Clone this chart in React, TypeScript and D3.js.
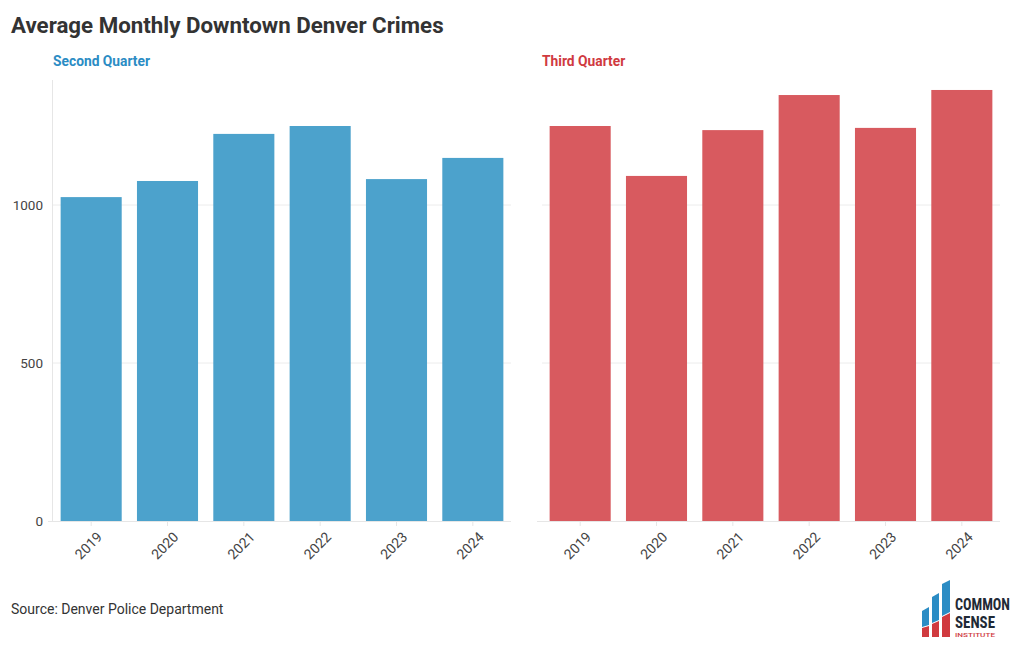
import React from "react";
import * as d3 from "d3";

const years = ["2019", "2020", "2021", "2022", "2023", "2024"];
const secondQuarter = [1025, 1076, 1225, 1250, 1082, 1149];
const thirdQuarter = [1250, 1092, 1237, 1348, 1244, 1364];
const yTicks = [0, 500, 1000];

const FONT = "Roboto, 'Noto Sans', sans-serif";

function Panel({ x0, x1, values, color, titleColor, title, showAxis }: any) {
  const y = d3.scaleLinear().domain([0, 1000]).range([521, 205]);
  const x = d3.scaleBand().domain(years).range([x0, x1]).paddingInner(0.2).paddingOuter(0.1);
  return (
    <g>
      <text x={x0} y={66} fontFamily={FONT} fontWeight={700} fontSize={13.8} fill={titleColor}>{title}</text>
      {yTicks.filter(t => t > 0).map(t => (
        <line key={t} x1={x0} x2={x1} y1={y(t)} y2={y(t)} stroke="#ececec" strokeWidth={1} />
      ))}
      {showAxis && <line x1={x0 - 0.5} x2={x0 - 0.5} y1={80} y2={521} stroke="#e6e6e6" />}
      {showAxis && yTicks.map(t => (
        <text key={t} x={x0 - 10} y={y(t)} dy="0.35em" textAnchor="end" fontFamily={FONT} fontSize={13.5} fill="#444">{t}</text>
      ))}
      {values.map((v: number, i: number) => (
        <rect key={i} x={x(years[i])} width={x.bandwidth()} y={y(v)} height={y(0) - y(v)} fill={color} />
      ))}
      <line x1={x0 - 5} x2={x1} y1={521.5} y2={521.5} stroke="#e6e6e6" />
      {years.map(yr => {
        const cx = (x(yr) as number) + x.bandwidth() / 2;
        return (
          <g key={yr}>
            <line x1={cx} x2={cx} y1={522} y2={526} stroke="#e6e6e6" />
            <text transform={`translate(${cx + 5},${531}) rotate(-45)`} textAnchor="end" dy="0.7em" fontFamily={FONT} fontSize={14} fill="#444">{yr}</text>
          </g>
        );
      })}
    </g>
  );
}

function Logo() {
  return (
    <g>
      <polygon points="922,611 929,607 929,625 922,627" fill="#2b8cc4" />
      <polygon points="932,597 939,593 939,620 932,623" fill="#2b8cc4" />
      <polygon points="942,584 950,580 950,612 942,616" fill="#2b8cc4" />
      <polygon points="922,628 929,626 929,637 922,637" fill="#d03a3f" />
      <polygon points="932,624 939,621 939,637 932,637" fill="#d03a3f" />
      <polygon points="942,617 950,613 950,637 942,637" fill="#d03a3f" />
      <text x={955} y={610} fontFamily="'Roboto Condensed', Roboto, sans-serif" fontWeight={700} fontSize={16} fill="#1f2a36" textLength={55} lengthAdjust="spacingAndGlyphs">COMMON</text>
      <text x={955} y={628} fontFamily="'Roboto Condensed', Roboto, sans-serif" fontWeight={700} fontSize={16} fill="#1f2a36" textLength={40} lengthAdjust="spacingAndGlyphs">SENSE</text>
      <text x={955} y={637} fontFamily={FONT} fontWeight={500} fontSize={6} fill="#d03a3f" textLength={40} lengthAdjust="spacingAndGlyphs">INSTITUTE</text>
    </g>
  );
}

export default function App() {
  return (
    <svg width={1020} height={650} style={{ position: "absolute", left: 0, top: 0, background: "#fff" }}>
      <rect width={1020} height={650} fill="#fff" />
      <text x={11} y={33} fontFamily={FONT} fontWeight={700} fontSize={22.3} fill="#333">Average Monthly Downtown Denver Crimes</text>
      <Panel x0={53} x1={511} values={secondQuarter} color="#4ca2cc" titleColor="#2b8cc4" title="Second Quarter" showAxis={true} />
      <Panel x0={542} x1={1000} values={thirdQuarter} color="#d85a5f" titleColor="#d03a3f" title="Third Quarter" showAxis={false} />
      <text x={11} y={614} fontFamily={FONT} fontSize={14} fill="#333">Source: Denver Police Department</text>
      <Logo />
    </svg>
  );
}
